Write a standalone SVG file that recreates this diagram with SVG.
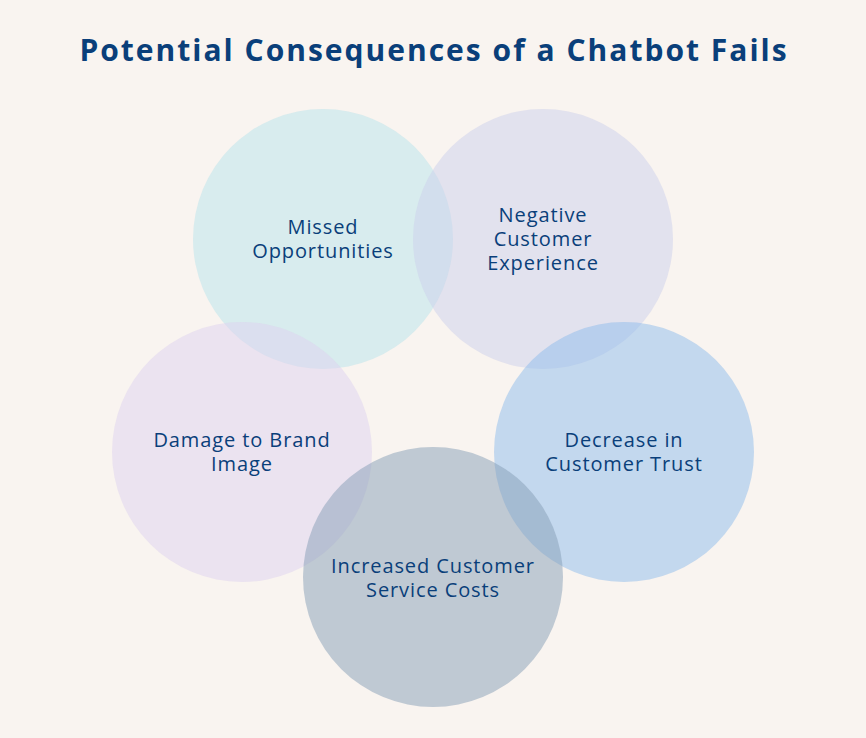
<svg xmlns="http://www.w3.org/2000/svg" width="866" height="738" viewBox="0 0 866 738">
<style>
.title{font-family:"Open Sans","Liberation Sans",sans-serif;font-weight:700;font-size:30px;letter-spacing:2px;fill:#0a3f7a;text-anchor:middle}
.lbl{font-family:"Open Sans","Liberation Sans",sans-serif;font-size:20px;letter-spacing:0.9px;fill:#0a3f7a;text-anchor:middle}
circle{fill-opacity:0.5}
</style>
<rect width="866" height="738" fill="#f9f4f0"/>
<text class="title" x="434" y="61">Potential Consequences of a Chatbot Fails</text>
<g id="n1"><circle cx="323" cy="239" r="130" fill="#b7e4ec"/></g>
<g id="n2"><circle cx="543" cy="239" r="130" fill="#cbd0ec"/></g>
<g id="n3"><circle cx="242" cy="452" r="130" fill="#ddd2f0"/></g>
<g id="n4"><circle cx="624" cy="452" r="130" fill="#8dbcec"/></g>
<g id="n5"><circle cx="433" cy="577" r="130" fill="#859eb6"/></g>
<g id="labels">
<text class="lbl" x="323" y="234">Missed</text>
<text class="lbl" x="323" y="258">Opportunities</text>
<text class="lbl" x="543" y="222">Negative</text>
<text class="lbl" x="543" y="246">Customer</text>
<text class="lbl" x="543" y="270">Experience</text>
<text class="lbl" x="242" y="447">Damage to Brand</text>
<text class="lbl" x="242" y="471">Image</text>
<text class="lbl" x="624" y="447">Decrease in</text>
<text class="lbl" x="624" y="471">Customer Trust</text>
<text class="lbl" x="433" y="573">Increased Customer</text>
<text class="lbl" x="433" y="597">Service Costs</text>
</g>
<g id="connectors"/>
</svg>
